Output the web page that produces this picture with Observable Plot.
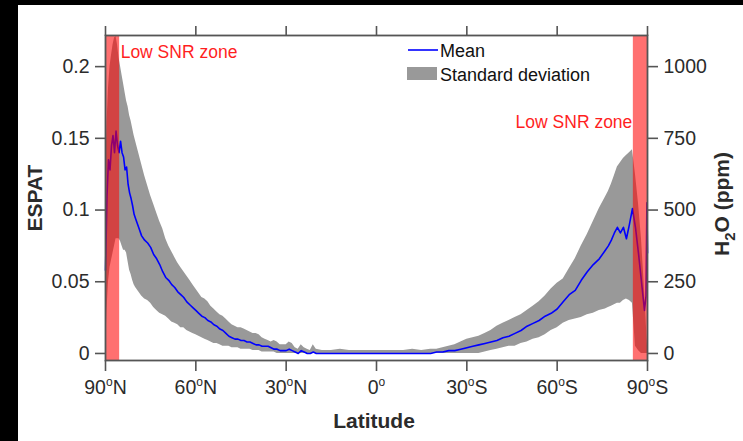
<!DOCTYPE html>
<html><head><meta charset="utf-8">
<script src="https://cdn.jsdelivr.net/npm/d3@7"></script>
<script src="https://cdn.jsdelivr.net/npm/@observablehq/plot@0.6"></script>
<style>
html,body{margin:0;padding:0;background:#000;width:743px;height:441px;overflow:hidden}
#chart{position:absolute;left:18px;top:5px;width:725px;height:436px;background:#fff}
</style></head><body><div id="chart"></div>
<script>
const latitude = [
  90,89.5,89,88.5,88,87.5,87,86.5,86,85.5,
  85,84.5,84,83.5,83,82.5,82,81.5,81,80.5,
  80,79,78,77,76,75,74,73,72,71,
  70,69,68,67,66,65,64,63,62,61,
  60,59,58,57,56,55,54,53,52,51,
  50,49,48,47,46,45,44,43,42,41,
  40,39,38,37,36,35,34,33,32,31,
  30,29,28,27,26,25,24,23,22,21,
  20,18,15,12,9,6,3,0,-3,-6,
  -9,-12,-15,-18,-20,-22,-24,-26,-28,-30,
  -32,-34,-36,-38,-40,-42,-44,-46,-48,-50,
  -52,-54,-56,-58,-60,-62,-64,-66,-68,-70,
  -72,-74,-76,-77,-78,-79,-80,-81,-82,-83,
  -84,-85,-86,-87,-88,-89,-89.5,-89.8,-90];
const meanESPAT = [
  .058,.110,.135,.128,.145,.152,.140,.155,.145,.140,
  .148,.140,.137,.128,.130,.118,.112,.108,.103,.097,
  .094,.088,.082,.079,.077,.074,.069,.066,.062,.057,
  .053,.051,.048,.046,.043,.041,.039,.036,.034,.032,
  .030,.028,.026,.025,.023,.022,.020,.019,.017,.016,
  .014,.012,.011,.010,.010,.009,.009,.008,.008,.007,
  .006,.006,.005,.005,.005,.004,.003,.003,.002,.002,
  .002,.003,.002,.001,.000,.002,.001,.000,.000,.001,
  0,0,0,0,0,0,0,0,0,0,
  0,0,0,0,.001,.001,.002,.002,.003,.004,
  .005,.006,.007,.008,.009,.011,.012,.014,.016,.019,
  .021,.023,.026,.028,.031,.036,.041,.044,.051,.057,
  .062,.066,.072,.075,.079,.084,.088,.084,.088,.080,
  .090,.101,.088,.070,.050,.030,.040,.105,.070];
const sdLower = [
  0,.030,.050,.060,.065,.070,.075,.080,.080,.080,
  .078,.075,.072,.072,.070,.064,.058,.055,.051,.048,
  .046,.043,.040,.038,.037,.035,.032,.030,.028,.027,
  .026,.024,.022,.021,.020,.018,.018,.016,.015,.014,
  .013,.012,.011,.010,.009,.008,.007,.007,.006,.005,
  .005,.005,.004,.004,.004,.003,.003,.003,.003,.002,
  .002,.002,.001,.001,.001,.001,.001,0,0,0,
  0,0,0,0,0,0,0,0,0,0,
  0,0,0,0,0,0,0,0,0,0,
  0,0,0,0,0,0,0,0,0,0,
  0,0,.001,.002,.003,.004,.005,.005,.007,.008,
  .010,.011,.013,.016,.018,.021,.023,.024,.025,.027,
  .028,.030,.031,.032,.033,.034,.035,.035,.037,.038,
  .037,.035,.005,.002,0,0,0,0,0];
const sdUpper = [
  .120,.160,.185,.200,.208,.215,.220,.221,.215,.206,
  .200,.194,.188,.182,.176,.172,.166,.162,.157,.152,
  .148,.140,.132,.124,.117,.110,.104,.098,.092,.087,
  .080,.075,.071,.067,.063,.060,.057,.054,.051,.048,
  .045,.042,.039,.038,.036,.033,.031,.029,.027,.026,
  .024,.022,.020,.019,.018,.018,.017,.016,.015,.014,
  .014,.013,.011,.010,.009,.008,.009,.008,.006,.006,
  .006,.008,.007,.004,.003,.006,.004,.003,.002,.006,
  .003,.002,.002,.003,.002,.002,.002,.002,.002,.002,
  .002,.003,.002,.003,.003,.004,.005,.006,.008,.010,
  .011,.012,.014,.016,.019,.021,.023,.025,.027,.030,
  .033,.036,.040,.045,.049,.052,.059,.066,.075,.083,
  .092,.101,.109,.113,.118,.124,.130,.133,.136,.138,
  .140,.142,.125,.105,.080,.045,.025,.012,.005];

const xTicks = [90, 60, 30, 0, -30, -60, -90];
const xTickLabels = ["90°N", "60°N", "30°N", "0°", "30°S", "60°S", "90°S"];
const yTicks = [0, 0.05, 0.1, 0.15, 0.2];
const yTickLabels = ["0", "0.05", "0.1", "0.15", "0.2"];
const h2oTickLabels = ["0", "250", "500", "750", "1000"];
const lowSNRZones = [{from: 90, to: 85.3}, {from: -85.3, to: -90}];
const legendItems = ["Mean", "Standard deviation"];

const data = latitude.map((lat, i) => ({lat, mean: meanESPAT[i], lo: sdLower[i], hi: sdUpper[i]}));
const FONT = '"Liberation Sans", Arial, Helvetica, sans-serif';
const axisColor = "#555";
const textColor = "#2b2b2b";

const svg = Plot.plot({
  width: 725, height: 436,
  marginLeft: 87, marginRight: 96, marginTop: 30, marginBottom: 81,
  x: {domain: [90, -90]},
  y: {domain: [-0.0049, 0.2217]},
  style: {fontFamily: FONT, fontSize: "19.5px", color: textColor, background: "#fff", overflow: "visible"},
  marks: [
    Plot.areaY(data, {x: "lat", y1: "lo", y2: "hi", fill: "#999999"}),
    Plot.lineY(data, {x: "lat", y: "mean", stroke: "#0000ff", strokeWidth: 1.6}),
    Plot.rect(lowSNRZones, {x1: "from", x2: "to", fill: "#ff0000", fillOpacity: 0.56}),
    Plot.text(["Low SNR zone"], {x: 85.3, y: 0.2059, dx: 1, text: d => d, textAnchor: "start", lineAnchor: "bottom", fill: "#ff1f1f", fontSize: 17.5}),
    Plot.text(["Low SNR zone"], {x: -85.3, y: 0.1571, dx: -1, text: d => d, textAnchor: "end", lineAnchor: "bottom", fill: "#ff1f1f", fontSize: 17.5}),
    Plot.frame({stroke: axisColor, strokeWidth: 1.8}),
    Plot.axisX({anchor: "bottom", ticks: xTicks, tickFormat: d => xTickLabels[xTicks.indexOf(d)], tickSize: 11, tickPadding: 9, stroke: axisColor, strokeWidth: 1.6, fill: textColor, fontSize: 19.5, label: null}),
    Plot.axisX({anchor: "top", ticks: xTicks, tickFormat: () => "", tickSize: 10, stroke: axisColor, strokeWidth: 1.6, label: null}),
    Plot.axisY({anchor: "left", ticks: yTicks, tickFormat: d => yTickLabels[yTicks.indexOf(d)], tickSize: 10, tickPadding: 6, stroke: axisColor, strokeWidth: 1.6, fill: textColor, fontSize: 19.5, label: null}),
    Plot.axisY({anchor: "right", ticks: yTicks, tickFormat: d => h2oTickLabels[yTicks.indexOf(d)], tickSize: 10, tickPadding: 6, stroke: axisColor, strokeWidth: 1.6, fill: textColor, fontSize: 19.5, label: null})
  ]
});

// superscript "o" in latitude tick labels
d3.select(svg).selectAll("text").each(function() {
  const t = this.textContent;
  if (!xTickLabels.includes(t)) return;
  const [num, hemi] = t.split("°");
  const sel = d3.select(this);
  sel.text(null);
  sel.append("tspan").text(num);
  sel.append("tspan").attr("dy", "-8").attr("font-size", 12).text("o");
  if (hemi) sel.append("tspan").attr("dy", "8").attr("font-size", 19.5).text(hemi);
});

const s = d3.select(svg);
// legend
const lg = s.append("g").attr("font-family", FONT).attr("font-size", 18).attr("fill", "#111").attr("text-anchor", "start");
lg.append("line").attr("x1", 390).attr("x2", 420).attr("y1", 45).attr("y2", 45).attr("stroke", "#0000ff").attr("stroke-width", 1.6);
lg.append("text").attr("x", 422).attr("y", 52).attr("text-anchor", "start").text(legendItems[0]);
lg.append("rect").attr("x", 389).attr("y", 62).attr("width", 30).attr("height", 13).attr("fill", "#999999");
lg.append("text").attr("x", 422).attr("y", 76).attr("text-anchor", "start").text(legendItems[1]);

// axis titles
s.append("text").attr("transform", "translate(16,193) rotate(-90)").attr("text-anchor", "middle").attr("dominant-baseline", "central")
  .attr("font-family", FONT).attr("font-weight", "bold").attr("font-size", 21).attr("fill", textColor).text("ESPAT");
s.append("text").attr("x", 356).attr("y", 423).attr("text-anchor", "middle")
  .attr("font-family", FONT).attr("font-weight", "bold").attr("font-size", 21).attr("fill", textColor).text("Latitude");
const h = s.append("text").attr("transform", "translate(711,199) rotate(-90)").attr("text-anchor", "middle")
  .attr("font-family", FONT).attr("font-weight", "bold").attr("font-size", 21).attr("fill", textColor);
h.append("tspan").text("H");
h.append("tspan").attr("dy", 6).attr("font-size", 15).text("2");
h.append("tspan").attr("dy", -6).text("O (ppm)");

document.getElementById("chart").appendChild(svg);
</script></body></html>
